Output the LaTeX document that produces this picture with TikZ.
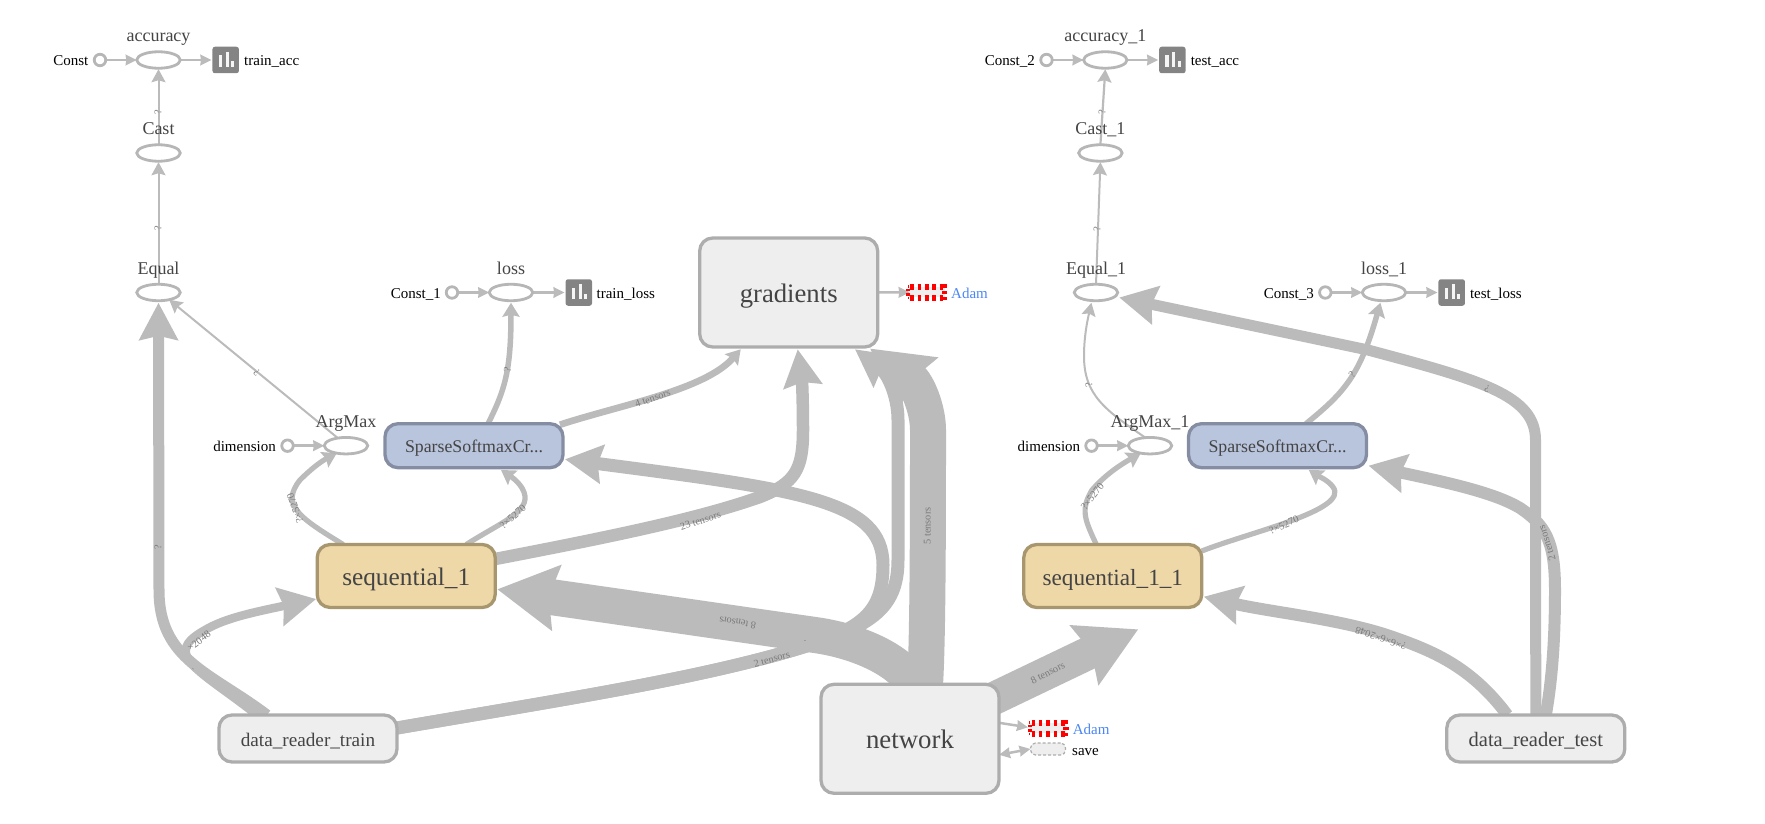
\documentclass[tikz,border=0pt]{standalone}
\usepackage{fontspec}
\setmainfont{Liberation Serif}
\usetikzlibrary{shapes.geometric,arrows.meta,backgrounds}
\definecolor{edgecol}{HTML}{BBBBBB}
\definecolor{opline}{HTML}{B6B6B6}
\definecolor{grayfill}{HTML}{EEEEEE}
\definecolor{grayline}{HTML}{ADADAD}
\definecolor{bluefill}{HTML}{B9C4DD}
\definecolor{blueline}{HTML}{858DA3}
\definecolor{tanfill}{HTML}{EED8A8}
\definecolor{tanline}{HTML}{A8966F}
\definecolor{adamblue}{HTML}{4A86F5}
\definecolor{iconcol}{HTML}{848484}
\definecolor{opname}{HTML}{444444}
\definecolor{edgetext}{HTML}{7A7A7A}
\newcommand{\fs}[1]{\fontsize{#1}{#1}\selectfont}
\tikzset{
  opell/.style={ellipse,draw=opline,fill=white,line width=2.8pt,minimum width=43.5pt,minimum height=16.5pt,inner sep=0pt,outer sep=0pt},
  constc/.style={circle,draw=opline,fill=white,line width=2.8pt,minimum size=11.5pt,inner sep=0pt,outer sep=0pt},
  iconbox/.style={rectangle,rounded corners=2.5pt,fill=iconcol,minimum size=26.5pt,inner sep=0pt,outer sep=0pt},
  opname/.style={text=opname,font=\fs{18},anchor=base,inner sep=0pt},
  sidetext/.style={text=black,font=\fs{15},inner sep=0pt},
  boxg/.style={rectangle,rounded corners=13pt,line width=3.3pt,draw=grayline,fill=grayfill,minimum width=178pt,inner sep=0pt,outer sep=0pt,text=opname},
  boxb/.style={boxg,draw=blueline,fill=bluefill},
  boxt/.style={boxg,draw=tanline,fill=tanfill},
  adambox/.style={rectangle,fill=grayfill,minimum width=36pt,minimum height=10pt,inner sep=0pt,outer sep=0pt},
  savebox/.style={rectangle,rounded corners=5pt,draw=grayline,fill=grayfill,line width=1.2pt,dash pattern=on 3pt off 2pt,minimum width=35pt,minimum height=12pt,inner sep=0pt,outer sep=0pt},
  conn/.style={draw=edgecol,line cap=butt,line join=round},
  etext/.style={text=edgetext,font=\fs{10.3},inner sep=0pt},
  hXL/.tip={Stealth[length=59pt,width=64pt,inset=7pt]},
  hL/.tip={Stealth[length=37pt,width=38pt,inset=4pt]},
  hM/.tip={Stealth[length=14pt,width=17pt,inset=2pt]},
  hS/.tip={Stealth[length=13pt,width=14pt,inset=2pt]},
  hH/.tip={Stealth[length=11pt,width=10.5pt,inset=.5pt]},
  sumbars/.pic={
    \fill[white!92!iconcol] (-7,-5) rectangle (-3.8,6.7);
    \fill[white!92!iconcol] (-0.2,-8.3) rectangle (3,6.7);
    \fill[white!92!iconcol] (5.4,1) rectangle (8.6,6.7);
  },
  adamdash/.pic={
    \draw[red,line width=6pt,dash pattern=on 3.6pt off 3.75pt] (-16.5,-5.5) -- (16.5,-5.5);
    \draw[red,line width=6pt,dash pattern=on 3.6pt off 3.75pt] (-16.5,5.5) -- (16.5,5.5);
    \fill[red] (16.5,-8) rectangle (20,-4.6);
    \fill[red] (16.5,4.6) rectangle (20,8);
    \fill[red] (15,-1.4) rectangle (20.5,1.4);
    \fill[red] (-20.5,-3.6) rectangle (-16.5,-1);
    \fill[red] (-20.5,1) rectangle (-16.5,3.6);
    \fill[red] (-19,-7) rectangle (-18,-4.6);
    \fill[red] (-19,4.6) rectangle (-18,7);
  }
}
\begin{document}
\begin{tikzpicture}[x=1pt,y=-1pt]
\useasboundingbox (0,0) rectangle (1765,824);
% ---- ops, left half
\node[opell] (acc) at (158.5,60) {};
\node[opname] (accL) at (158.5,42) {accuracy};
\node[constc] (c0) at (100,60) {};
\node[sidetext,anchor=base east] (c0L) at (88.5,66) {Const};
\node[iconbox] (ia) at (225.7,60) {};
\pic at (ia) {sumbars};
\node[sidetext,anchor=base west] (iaL) at (244,66) {train\_acc};
\node[opell] (cast) at (158.5,153) {};
\node[opname] (castL) at (158.5,135) {Cast};
\node[opell] (eq) at (158.5,292.5) {};
\node[opname] (eqL) at (158.5,274.5) {Equal};
\node[opell] (loss) at (511,292.5) {};
\node[opname] (lossL) at (511,274.5) {loss};
\node[constc] (c1) at (452,292.5) {};
\node[sidetext,anchor=base east] (c1L) at (441,298.5) {Const\_1};
\node[iconbox] (il) at (578.8,292.5) {};
\pic at (il) {sumbars};
\node[sidetext,anchor=base west] (ilL) at (596.4,298.5) {train\_loss};
\node[opell] (am) at (346,445.7) {};
\node[opname] (amL) at (346,427.7) {ArgMax};
\node[constc] (d0) at (287.5,445.7) {};
\node[sidetext,anchor=base east] (d0L) at (276,451.7) {dimension};
\node[boxb,minimum height=44pt,text height=13pt,text depth=0pt,font=\fs{17.8}] (sp) at (474,445.7) {SparseSoftmaxCr...};
\node[boxt,minimum height=63pt,text height=18pt,text depth=0pt,font=\fs{25.3}] (seq) at (406.2,576) {sequential\_1};
\node[boxg,minimum height=47pt,text height=16pt,text depth=0pt,font=\fs{19.2}] (dtr) at (308,738.5) {data\_reader\_train};
\node[boxg,minimum height=109pt,text height=19pt,text depth=0pt,font=\fs{26.7}] (grad) at (788.7,292.5) {gradients};
\node[adambox] (ad0) at (926.7,292.3) {};
\pic at (ad0) {adamdash};
\node[sidetext,anchor=base west,text=adamblue] (ad0L) at (951,298.7) {Adam};
\node[boxg,minimum height=109pt,text height=19pt,text depth=0pt,font=\fs{26.8}] (net) at (910,738.8) {network};
\node[adambox] (ad1) at (1048,728.3) {};
\pic at (ad1) {adamdash};
\node[sidetext,anchor=base west,text=adamblue] (ad1L) at (1072.7,734.3) {Adam};
\node[savebox] (sv) at (1048,749) {};
\node[sidetext,anchor=base west] (svL) at (1072,755.3) {save};
% ---- ops, right half
\node[opell] (acc1) at (1105.3,60) {};
\node[opname] (acc1L) at (1105.3,42) {accuracy\_1};
\node[constc] (c2) at (1046.5,60) {};
\node[sidetext,anchor=base east] (c2L) at (1035,66) {Const\_2};
\node[iconbox] (ib) at (1172.4,60) {};
\pic at (ib) {sumbars};
\node[sidetext,anchor=base west] (ibL) at (1190.6,66) {test\_acc};
\node[opell] (cast1) at (1100.4,153) {};
\node[opname] (cast1L) at (1100.4,135) {Cast\_1};
\node[opell] (eq1) at (1096,292.5) {};
\node[opname] (eq1L) at (1096,274.5) {Equal\_1};
\node[opell] (loss1) at (1384,292.5) {};
\node[opname] (loss1L) at (1384,274.5) {loss\_1};
\node[constc] (c3) at (1325.3,292.5) {};
\node[sidetext,anchor=base east] (c3L) at (1314,298.5) {Const\_3};
\node[iconbox] (im) at (1451.7,292.5) {};
\pic at (im) {sumbars};
\node[sidetext,anchor=base west] (imL) at (1469.8,298.5) {test\_loss};
\node[opell] (am1) at (1150,445.7) {};
\node[opname] (am1L) at (1150,427.7) {ArgMax\_1};
\node[constc] (d1) at (1091.5,445.7) {};
\node[sidetext,anchor=base east] (d1L) at (1080.4,451.7) {dimension};
\node[boxb,minimum height=44pt,text height=13pt,text depth=0pt,font=\fs{17.8}] (sp1) at (1277.5,445.7) {SparseSoftmaxCr...};
\node[boxt,minimum height=63pt,text height=18pt,text depth=0pt,font=\fs{23.2}] (seq1) at (1112.8,576) {sequential\_1\_1};
\node[boxg,minimum height=47pt,text height=16pt,text depth=0pt,font=\fs{20.5}] (dte) at (1535.8,738.5) {data\_reader\_test};
% ---- connectors
\begin{scope}[on background layer]
\draw[conn,line width=2.5pt,-hH] (c0) -- (acc);
\draw[conn,line width=2.5pt,-hH] (acc) -- ([xshift=-1pt]ia.west);
\draw[conn,line width=2.5pt,-hH] (c1) -- (loss);
\draw[conn,line width=2.5pt,-hH] (loss) -- ([xshift=-1pt]il.west);
\draw[conn,line width=2.5pt,-hH] (c2) -- (acc1);
\draw[conn,line width=2.5pt,-hH] (acc1) -- ([xshift=-1pt]ib.west);
\draw[conn,line width=2.5pt,-hH] (c3) -- (loss1);
\draw[conn,line width=2.5pt,-hH] (loss1) -- ([xshift=-1pt]im.west);
\draw[conn,line width=2.5pt,-hH] (d0) -- (am);
\draw[conn,line width=2.5pt,-hH] (d1) -- (am1);
\draw[conn,line width=2pt,-hS] (cast.north) -- ([yshift=-1pt]acc.south);
\draw[conn,line width=2pt,-hS] (eq.north) -- ([yshift=-1pt]cast.south);
\draw[conn,line width=2.2pt,-hS] (cast1.north) -- ([yshift=-1pt]acc1.south);
\draw[conn,line width=2pt,-hS] (eq1.north) -- ([yshift=-1pt]cast1.south);
\draw[conn,line width=2pt,-hS] (am.137) -- (eq.326);
\draw[conn,line width=2pt,-hS] (am1.120) .. controls (1105,410) and (1084,395) .. (1084,356) .. controls (1084,335) and (1088,318) .. ([xshift=-4.6pt,yshift=-2pt]eq1.south);
% to loss
\draw[conn,line width=5.5pt,-hM] ([xshift=14pt]sp.north) .. controls (505,390) and (511,370) .. ([yshift=-2pt]loss.south);
\draw[conn,line width=5.5pt,-hM] ([xshift=28.5pt]sp1.north) .. controls (1345,392) and (1360,375) .. ([xshift=-3.6pt,yshift=-2pt]loss1.south);
% to ArgMax / Sparse from sequential
\draw[conn,line width=5.2pt,-hM] ([xshift=-63pt]seq.north) .. controls (300,518) and (280,505) .. (300,480) .. controls (310,470) and (320,462) .. (am.219);
\draw[conn,line width=5.2pt,-hM] ([xshift=60pt]seq.north) .. controls (505,520) and (535,510) .. (522,488) .. controls (517,480) and (510,476) .. ([xshift=27pt,yshift=-2.3pt]sp.south);
\draw[conn,line width=5.2pt,-hM] ([xshift=-16.5pt]seq1.north) .. controls (1085,520) and (1080,510) .. (1092,490) .. controls (1105,475) and (1120,465) .. (am1.219);
\draw[conn,line width=5.2pt,-hM] ([yshift=25pt]seq1.east) .. controls (1250,532) and (1350,510) .. (1333,487) .. controls (1328,480) and (1318,476) .. ([xshift=31.3pt,yshift=-2.3pt]sp1.south);
% data_reader_train
\draw[conn,line width=11pt,-hL] ([xshift=-41pt]dtr.north) .. controls (210,672) and (159,660) .. (159,590) -- ([yshift=-2pt]eq.south);
\draw[conn,line width=8.5pt,-hL] ([xshift=-51pt]dtr.north) .. controls (200,670) and (160,655) .. (205,630) .. controls (225,618) and (255,612) .. ([xshift=-1pt,yshift=-23pt]seq.west);
\draw[conn,line width=13pt,-hL] ([yshift=10.5pt]dtr.east) .. controls (560,700) and (690,680) .. (790,651) .. controls (860,630) and (883,615) .. (883,565) .. controls (883,500) and (800,490) .. ([xshift=2pt,yshift=-13.6pt]sp.east);
\draw[conn,line width=13pt,-hL] ([yshift=10.5pt]dtr.east) .. controls (560,700) and (690,680) .. (790,651) .. controls (870,628) and (898,610) .. (898,560) -- (898,420) .. controls (898,395) and (887,373) .. ([xshift=66.3pt,yshift=-2.3pt]grad.south);
% sequential_1 -> gradients, Sparse -> gradients
\draw[conn,line width=12.5pt,-hL] ([yshift=17pt]seq.east) .. controls (620,535) and (700,518) .. (760,497) .. controls (795,483) and (803,470) .. (803,430) .. controls (803,400) and (802,380) .. ([xshift=9pt,yshift=-2.3pt]grad.south);
\draw[conn,line width=6.7pt,-hM] ([xshift=-3pt,yshift=-1pt]sp.north east) .. controls (620,405) and (705,390) .. ([xshift=-48pt,yshift=-2.3pt]grad.south);
% network
\draw[conn,line width=36pt,-hXL] ([xshift=15pt]net.north) .. controls (928,640) and (928,500) .. (928,430) .. controls (928,410) and (918,384) .. ([xshift=81.3pt,yshift=-1.5pt]grad.south);
\draw[conn,line width=36pt,-hXL] ([xshift=2pt]net.north) .. controls (905,665) and (865,642) .. (815,635) -- ([xshift=2pt,yshift=-13.3pt]seq.east);
\draw[conn,line width=33pt,-hXL] ([xshift=-9pt,yshift=-16pt]net.north east) -- ([xshift=25.5pt,yshift=-21.8pt]seq1.south);
\draw[conn,line width=2.5pt,-hH] ([yshift=16pt]net.east) -- ([xshift=-2pt,yshift=1pt]ad1.west);
\draw[conn,line width=2.5pt,hH-hH] ([yshift=-16pt]net.east) -- (sv.west);
\draw[conn,line width=2.5pt,-hH] (grad.east) -- ([xshift=1pt]ad0.west);
% data_reader_test
\draw[conn,line width=11pt,-hL] (dte.north) -- (1535.5,440) .. controls (1535.5,395) and (1480,380) .. (1368,350) -- ([xshift=1.5pt,yshift=-5pt]eq1.east);
\draw[conn,line width=12pt,-hL] ([xshift=10pt]dte.north) .. controls (1552,680) and (1555,640) .. (1555,590) .. controls (1555,540) and (1545,525) .. (1520,508) .. controls (1495,493) and (1450,483) .. ([xshift=2pt,yshift=-20pt]sp1.east);
\draw[conn,line width=12pt,-hL] ([xshift=-28.5pt]dte.north) .. controls (1470,665) and (1430,650) .. (1390,636) .. controls (1340,619) and (1270,612) .. ([xshift=2pt,yshift=-20.7pt]seq1.east);
\end{scope}
% ---- connector labels
\node[etext,rotate=90] (e1) at (158,112) {?};
\node[etext,rotate=90] (e2) at (158,228.7) {?};
\node[etext,rotate=140] (e3) at (256.7,373) {?};
\node[etext,rotate=80] (e4) at (507.6,370) {?};
\node[etext,rotate=90] (e5) at (158,547.7) {?};
\node[etext,rotate=19] (e6) at (652.7,398.3) {4 tensors};
\node[etext,rotate=17.4] (e7) at (700.4,520.7) {23 tensors};
\node[etext,rotate=15] (e8) at (771.7,659) {2 tensors};
\node[etext,rotate=171] (e9) at (737.5,622.7) {8 tensors};
\node[etext,rotate=90] (e10) at (927.3,526) {5 tensors};
\node[etext,rotate=27] (e11) at (1047.7,672.7) {8 tensors};
\node[etext,rotate=110] (e12) at (295,508) {?×5270};
\node[etext,rotate=42] (e13) at (513,516.7) {?×5270};
\node[etext,rotate=37] (e14) at (199,641) {×2048};
\node[etext,rotate=88] (e15) at (1102,112.3) {?};
\node[etext,rotate=88] (e16) at (1097,228.7) {?};
\node[etext,rotate=100] (e17) at (1089,385) {?};
\node[etext,rotate=50] (e18) at (1352,375) {?};
\node[etext,rotate=160] (e19) at (1487,389) {?};
\node[etext,rotate=52] (e20) at (1092.4,496.7) {?×5270};
\node[etext,rotate=23.6] (e21) at (1284,525) {?×5270};
\node[etext,rotate=108] (e22) at (1547,543) {2 tensors};
\node[etext,rotate=161] (e23) at (1380.7,638.3) {?×6×6×2048};
\node[etext,font=\fs{7}] (e24) at (805,642) {-};
\node[etext,font=\fs{7},rotate=-45] (e25) at (192.7,670) {-};
\end{tikzpicture}
\end{document}
